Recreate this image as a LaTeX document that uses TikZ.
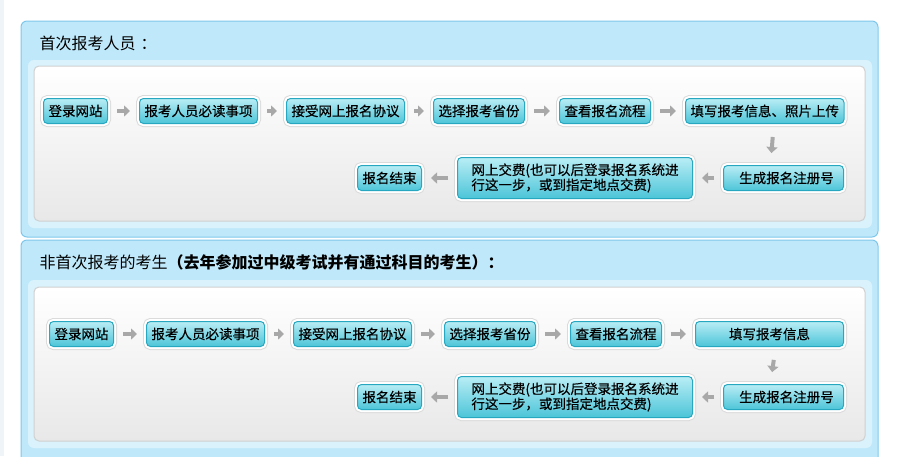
\documentclass[tikz,border=0pt]{standalone}
\usepackage{fontspec}
\newfontfamily\cjk{Noto Sans CJK SC}
\newfontfamily\cjknode[FakeBold=0.4]{Noto Sans CJK SC}
\usepackage{xcolor}
\usepackage{tikz}
\usetikzlibrary{arrows.meta,positioning}
\definecolor{panelblue}{HTML}{BFE9FB}
\definecolor{panelline}{HTML}{7FC7EA}
\definecolor{bandblue}{HTML}{D9F2FC}
\definecolor{boxline}{HTML}{D0D0D0}
\definecolor{nodetop}{HTML}{B9EDF5}
\definecolor{nodebot}{HTML}{4CC5D8}
\definecolor{nodeline}{HTML}{28A8C0}
\definecolor{arrgray}{HTML}{A8A8A8}
\definecolor{edgegray}{HTML}{EEF4F8}

\begin{document}
\begin{tikzpicture}[x=1pt,y=-1pt,font=\cjknode\fontsize{13.5}{15}\selectfont,
  panel/.style={draw=panelline,line width=1pt,fill=panelblue,rounded corners=6pt},
  band/.style={fill=bandblue,rounded corners=6pt},
  inbox/.style={draw=boxline,line width=1pt,rounded corners=5pt,top color=white,middle color=white,bottom color=black!9},
  ttl/.style={anchor=west,font=\cjk\fontsize{16}{18}\selectfont},
  st/.style={draw=nodeline,line width=1pt,rounded corners=4pt,top color=nodetop,bottom color=nodebot,
    inner xsep=5pt,inner ysep=2pt,minimum height=25pt,
    preaction={draw=black!14,line width=7pt},preaction={draw=white,line width=5pt}},
  arr/.style={-{Triangle[length=6pt,width=11pt]},line width=4pt,draw=arrgray,shorten <=9pt,shorten >=9pt}]
\useasboundingbox (0,0) rectangle (912,456);
\fill[edgegray] (0,0) rectangle (4,456);

% first-time applicants
\draw[panel] (21,21) rectangle (878,237);
\fill[band] (28,60) rectangle (872,228);
\draw[inbox] (34,66) rectangle (865,221);
\node[ttl] (t1) at (36,43) {首次报考人员\hspace{5pt}：};

\node[st,anchor=west] (a1) at (43,111) {登录网站};
\node[st,right=31pt of a1] (b1) {报考人员必读事项};
\node[st,right=28pt of b1] (c1) {接受网上报名协议};
\node[st,right=28pt of c1] (d1) {选择报考省份};
\node[st,right=34pt of d1] (e1) {查看报名流程};
\node[st,right=34pt of e1] (f1) {填写报考信息、照片上传};
\node[st,anchor=east,minimum width=120pt] (g1) at (844,178) {\hspace{6pt}生成报名注册号};
\node[st,left=30pt of g1,align=left,minimum height=41pt,minimum width=235pt] (h1) {网上交费(也可以后登录报名系统进\\行这一步，或到指定地点交费)};
\node[st,left=35pt of h1] (k1) {报名结束};
\draw[arr] (a1) -- (b1);
\draw[arr] (b1) -- (c1);
\draw[arr] (c1) -- (d1);
\draw[arr] (d1) -- (e1);
\draw[arr] (e1) -- (f1);
\draw[arr,shorten <=13pt,shorten >=12pt] ([xshift=9pt]f1.south) -- ([xshift=-13pt]g1.north);
\draw[arr] (g1) -- (h1);
\draw[arr] (h1) -- (k1);

% returning applicants
\draw[panel] (21,240) rectangle (878,475);
\fill[band] (28,280) rectangle (872,448);
\draw[inbox] (34,287) rectangle (865,441);
\node[ttl] (t2) at (36,262) {非首次报考的考生\textbf{（去年参加过中级考试并有通过科目的考生）：}};

\node[st,anchor=west] (a2) at (49,334) {登录网站};
\node[st,right=32pt of a2] (b2) {报考人员必读事项};
\node[st,right=28pt of b2] (c2) {接受网上报名协议};
\node[st,right=32pt of c2] (d2) {选择报考省份};
\node[st,right=34pt of d2] (e2) {查看报名流程};
\node[st,right=33pt of e2,minimum width=148pt] (f2) {填写报考信息};
\node[st,anchor=east,minimum width=120pt] (g2) at (844,397) {\hspace{6pt}生成报名注册号};
\node[st,left=30pt of g2,align=left,minimum height=41pt,minimum width=235pt] (h2) {网上交费(也可以后登录报名系统进\\行这一步，或到指定地点交费)};
\node[st,left=35pt of h2] (k2) {报名结束};
\draw[arr] (a2) -- (b2);
\draw[arr] (b2) -- (c2);
\draw[arr] (c2) -- (d2);
\draw[arr] (d2) -- (e2);
\draw[arr] (e2) -- (f2);
\draw[arr,shorten <=13pt,shorten >=12pt] ([xshift=6pt]f2.south) -- ([xshift=-13pt]g2.north);
\draw[arr] (g2) -- (h2);
\draw[arr] (h2) -- (k2);
\end{tikzpicture}
\end{document}
